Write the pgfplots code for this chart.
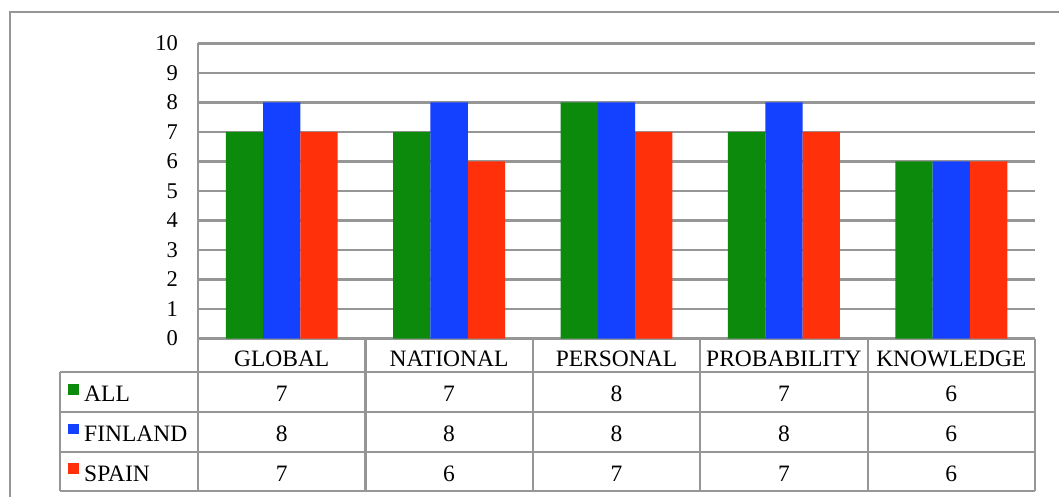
\documentclass[border=0pt]{standalone}
\usepackage{fontspec}
\setmainfont{Liberation Serif}
\usepackage{pgfplots}
\usepackage{pgfplotstable}
\pgfplotsset{compat=1.18}

\definecolor{allgreen}{RGB}{11,138,11}
\definecolor{finblue}{RGB}{20,64,255}
\definecolor{spainred}{RGB}{255,48,10}
\definecolor{rulegray}{RGB}{150,150,150}

% scores per dimension for each group
\pgfplotstableread{
x cat         all finland spain
0 GLOBAL      7   8       7
1 NATIONAL    7   8       6
2 PERSONAL    8   8       7
3 PROBABILITY 7   8       7
4 KNOWLEDGE   6   6       6
}\scores

\begin{document}
\fontsize{23.5}{28}\selectfont
\begin{tikzpicture}[x=1pt,y=1pt]
\useasboundingbox (0,0) rectangle (1059,496);
% outer frame
\begin{scope}
  \clip (0,0) rectangle (1059,496);
  \draw[rulegray, line width=2.2pt] (10,-20) rectangle (1090,484);
\end{scope}

\begin{axis}[
  at={(198pt,157.5pt)}, anchor=south west,
  scale only axis, width=837pt, height=295pt,
  ybar=0pt, bar width=37.3pt,
  xmin=-0.5, xmax=4.5, ymin=0, ymax=10,
  xtick=data, xticklabels from table={\scores}{cat},
  ytick={0,1,...,10},
  major tick length=0pt,
  ymajorgrids, grid style={rulegray, line width=2.2pt},
  axis x line*=bottom, axis y line*=left,
  axis line style={-, rulegray, line width=2.2pt},
  /pgf/number format/assume math mode=true,
  yticklabel style={anchor=east, inner sep=0pt, xshift=-20pt,
    font=\fontsize{22.5}{26}\selectfont},
  xticklabel style={anchor=base, inner sep=0pt, yshift=-27.5pt},
  clip=false,
]
\addplot[fill=allgreen, draw=none] table[x=x, y=all]{\scores};
\addplot[fill=finblue, draw=none] table[x=x, y=finland]{\scores};
\addplot[fill=spainred, draw=none] table[x=x, y=spain]{\scores};
% category centres and cell boundaries for the data table
\pgfplotsinvokeforeach{0,...,4}{\coordinate (c#1) at (axis cs:#1,0);}
\coordinate (b0) at (axis cs:-0.5,0);
\coordinate (b1) at (axis cs:0.5,0);
\coordinate (b2) at (axis cs:1.5,0);
\coordinate (b3) at (axis cs:2.5,0);
\coordinate (b4) at (axis cs:3.5,0);
\coordinate (b5) at (axis cs:4.5,0);
\end{axis}

% data table grid
\begin{scope}[rulegray, line width=2.2pt]
  \foreach \k in {0,...,5} \draw (b\k) -- ([yshift=-152.5pt]b\k);
  \draw (60,124) -- (1035,124);
  \draw (60,84) -- (1035,84);
  \draw (60,44) -- (1035,44);
  \draw (60,5) -- (1035,5);
  \draw (60,124) -- (60,5);
\end{scope}

% row headers with colour keys
\fill[allgreen] (68,101.5) rectangle (79,112);
\node[anchor=base west, inner sep=0pt] at (84,94.3) {ALL};
\fill[finblue] (68,62) rectangle (79,72.5);
\node[anchor=base west, inner sep=0pt] at (84,54.3) {FINLAND};
\fill[spainred] (68,22.5) rectangle (79,33);
\node[anchor=base west, inner sep=0pt] at (84,15) {SPAIN};

% table values
\foreach \i in {0,...,4}{
  \pgfplotstablegetelem{\i}{all}\of\scores
  \node[anchor=base, inner sep=0pt] at ([yshift=-63.2pt]c\i) {\pgfplotsretval};
  \pgfplotstablegetelem{\i}{finland}\of\scores
  \node[anchor=base, inner sep=0pt] at ([yshift=-103.2pt]c\i) {\pgfplotsretval};
  \pgfplotstablegetelem{\i}{spain}\of\scores
  \node[anchor=base, inner sep=0pt] at ([yshift=-142.5pt]c\i) {\pgfplotsretval};
}
\end{tikzpicture}
\end{document}
